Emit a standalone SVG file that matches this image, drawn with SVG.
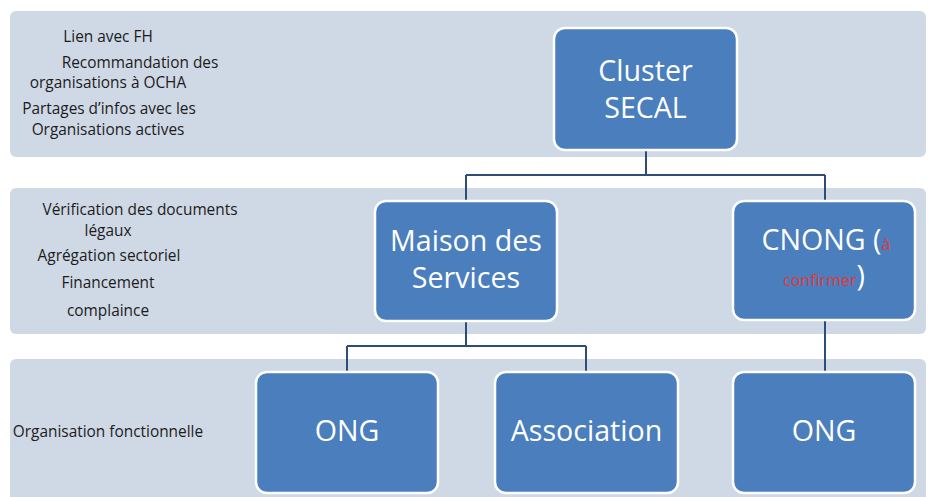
<svg xmlns="http://www.w3.org/2000/svg" width="928" height="497" viewBox="0 0 928 497">
<style>
.band{fill:#cfd8e5;}
.node{fill:#4a7ebd;stroke:#ffffff;stroke-width:2.5;}
.nt{font-family:"Open Sans","Liberation Sans",sans-serif;font-size:28.6px;fill:#ffffff;text-anchor:middle;}
.red{fill:#e0383a;font-size:16px;}
.lt{font-family:"Open Sans","Liberation Sans",sans-serif;font-size:15.4px;fill:#1c1c1c;text-anchor:middle;}
.conn{fill:none;stroke:#2c4d78;stroke-width:2;}
</style>
<rect width="928" height="497" fill="#ffffff"/>
<g id="bands">
<rect class="band" x="10" y="11" width="916" height="146" rx="6"/>
<rect class="band" x="10" y="188" width="916" height="146" rx="6"/>
<rect class="band" x="10" y="359" width="916" height="150" rx="6"/>
</g>
<g id="labels">
<text class="lt" x="108" y="42">Lien avec FH</text>
<text class="lt" x="140" y="68">Recommandation des</text>
<text class="lt" x="108" y="88">organisations à OCHA</text>
<text class="lt" x="109" y="114">Partages d’infos avec les</text>
<text class="lt" x="108" y="135">Organisations actives</text>
<text class="lt" x="140" y="215">Vérification des documents</text>
<text class="lt" x="108" y="236">légaux</text>
<text class="lt" x="109" y="261">Agrégation sectoriel</text>
<text class="lt" x="108" y="288">Financement</text>
<text class="lt" x="108" y="316">complaince</text>
<text class="lt" x="108" y="437">Organisation fonctionnelle</text>
</g>
<g id="connectors">
<path class="conn" d="M646,150 V175 M466,175 H825 M466,175 V201 M825,175 V201"/>
<path class="conn" d="M466,321 V346 M347,346 H586 M347,346 V372 M586,346 V372"/>
<path class="conn" d="M825,320 V372"/>
</g>
<g id="cluster">
<rect class="node" x="554" y="28" width="183" height="122" rx="11"/>
<text class="nt" x="645.5" y="81">Cluster</text>
<text class="nt" x="645.5" y="118">SECAL</text>
</g>
<g id="maison">
<rect class="node" x="375" y="201" width="182" height="120" rx="11"/>
<text class="nt" x="466" y="251">Maison des</text>
<text class="nt" x="466" y="288">Services</text>
</g>
<g id="cnong">
<rect class="node" x="733" y="201" width="182" height="119" rx="11"/>
<text class="nt" x="826" y="250">CNONG (<tspan class="red">à</tspan></text>
<text class="nt" x="824" y="286"><tspan class="red">confirmer</tspan>)</text>
</g>
<g id="ong1">
<rect class="node" x="256" y="372" width="182" height="121" rx="11"/>
<text class="nt" x="347" y="441">ONG</text>
</g>
<g id="association">
<rect class="node" x="495" y="372" width="183" height="121" rx="11"/>
<text class="nt" x="586.5" y="441">Association</text>
</g>
<g id="ong2">
<rect class="node" x="733" y="372" width="182" height="121" rx="11"/>
<text class="nt" x="824" y="441">ONG</text>
</g>
</svg>
